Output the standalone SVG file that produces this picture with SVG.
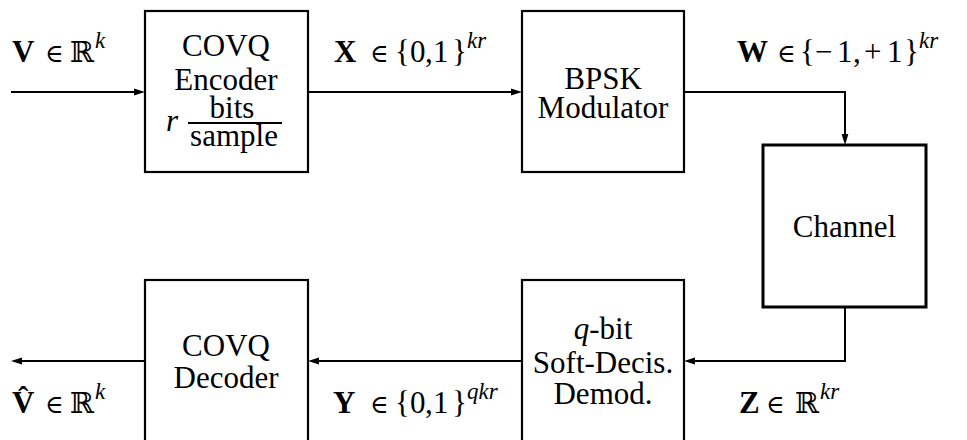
<svg xmlns="http://www.w3.org/2000/svg" width="967" height="440" viewBox="0 0 967 440">
<defs>
<style>
.t{font-family:"Liberation Serif","DejaVu Serif",serif;font-size:31px;fill:#000}
.m{text-anchor:middle}
.b{font-weight:bold}
.i{font-style:italic}
.s{font-size:23px;font-style:italic}
.rr{font-family:"DejaVu Serif","DejaVu Sans",serif;font-size:29px}
.el{font-family:"DejaVu Serif","Liberation Serif",serif;font-size:25px}
.box{fill:#fff;stroke:#000;stroke-width:2.2}
.ch{stroke-width:3}
.c{fill:none;stroke:#000;stroke-width:2;marker-end:url(#ah)}
</style>
<marker id="ah" markerUnits="userSpaceOnUse" markerWidth="12" markerHeight="8" refX="8" refY="4" orient="auto">
<path d="M0,0.6 L11,4 L0,7.4 z" fill="#000"/>
</marker>
</defs>
<rect width="967" height="440" fill="#fff"/>

<g id="connectors">
<path class="c" d="M11,92 H142"/>
<path class="c" d="M308,92 H519"/>
<path class="c" d="M684,92 H845 V142"/>
<path class="c" d="M845,307 V361 H687"/>
<path class="c" d="M522,361 H311"/>
<path class="c" d="M145,361 H14"/>
</g>

<g id="encoder">
<rect class="box" x="145" y="11" width="163" height="161"/>
<text class="t m" x="226" y="56">COVQ</text>
<text class="t m" x="226" y="90">Encoder</text>
<text class="t i" x="166" y="131">r</text>
<text class="t m" x="232" y="118">bits</text>
<line x1="188" y1="123" x2="282" y2="123" stroke="#000" stroke-width="2"/>
<text class="t m" x="234" y="146">sample</text>
</g>

<g id="modulator">
<rect class="box" x="522" y="11" width="162" height="161"/>
<text class="t m" x="603" y="89">BPSK</text>
<text class="t m" x="603" y="118">Modulator</text>
</g>

<g id="channel">
<rect class="box ch" x="763" y="145" width="163" height="162"/>
<text class="t m" x="844.5" y="237">Channel</text>
</g>

<g id="demodulator">
<rect class="box" x="522" y="280" width="162" height="170"/>
<text class="t m" x="603" y="339"><tspan class="i">q</tspan>-bit</text>
<text class="t m" x="603" y="373">Soft-Decis.</text>
<text class="t m" x="603" y="404">Demod.</text>
</g>

<g id="decoder">
<rect class="box" x="145" y="280" width="163" height="170"/>
<text class="t m" x="226" y="356">COVQ</text>
<text class="t m" x="226" y="388">Decoder</text>
</g>

<g id="labels">
<text class="t" y="62"><tspan class="b" x="12">V</tspan><tspan class="el" x="45">∈</tspan><tspan class="rr" x="70">ℝ</tspan><tspan class="s" x="95" y="48">k</tspan></text>
<text class="t" y="62"><tspan class="b" x="334">X</tspan><tspan class="el" x="370">∈</tspan><tspan x="395 410 425 433 452">{0,1}</tspan><tspan class="s" x="467" y="48">kr</tspan></text>
<text class="t" y="62"><tspan class="b" x="737">W</tspan><tspan class="el" x="777">∈</tspan><tspan x="800 815 837 853 864 887 904">{−1,+1}</tspan><tspan class="s" x="919" y="48">kr</tspan></text>
<text class="t" y="413"><tspan class="b" x="12">V̂</tspan><tspan class="el" x="45">∈</tspan><tspan class="rr" x="70">ℝ</tspan><tspan class="s" x="95" y="399">k</tspan></text>
<text class="t" y="413"><tspan class="b" x="333">Y</tspan><tspan class="el" x="370">∈</tspan><tspan x="395 410 425 433 452">{0,1}</tspan><tspan class="s" x="467" y="399">qkr</tspan></text>
<text class="t" y="413"><tspan class="b" x="739">Z</tspan><tspan class="el" x="766">∈</tspan><tspan class="rr" x="795">ℝ</tspan><tspan class="s" x="820" y="399">kr</tspan></text>
</g>
</svg>
